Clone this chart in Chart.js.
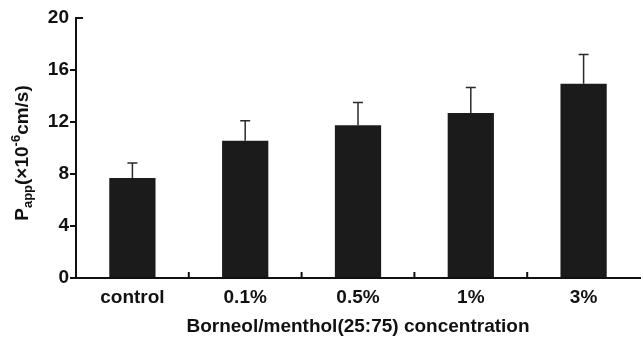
<!DOCTYPE html>
<html>
<head>
<meta charset="utf-8">
<script src="https://cdn.jsdelivr.net/npm/chart.js@4/dist/chart.umd.min.js"></script>
<style>
  html, body { margin: 0; padding: 0; background: #fff; }
  #wrap { width: 643px; height: 338px; }
</style>
</head>
<body>
<div id="wrap"><canvas id="papp"></canvas></div>
<script>
const categories = ['control', '0.1%', '0.5%', '1%', '3%'];
const pappMean = [7.7, 10.55, 11.75, 12.7, 14.95];
const pappSD = [1.15, 1.55, 1.75, 1.95, 2.25];
const yTicks = [0, 4, 8, 12, 16, 20];

const FONT = '"Liberation Sans", Arial, sans-serif';

// upward-only error bars with a short cap
const errorBars = {
  id: 'errorBars',
  afterDatasetsDraw(chart) {
    const ctx = chart.ctx;
    const y = chart.scales.y;
    const meta = chart.getDatasetMeta(0);
    ctx.save();
    ctx.strokeStyle = '#2a2a2a';
    ctx.lineWidth = 1.5;
    meta.data.forEach((bar, i) => {
      const top = y.getPixelForValue(pappMean[i] + pappSD[i]);
      const base = y.getPixelForValue(pappMean[i]);
      ctx.beginPath();
      ctx.moveTo(bar.x, base);
      ctx.lineTo(bar.x, top);
      ctx.moveTo(bar.x - 5, top);
      ctx.lineTo(bar.x + 5, top);
      ctx.stroke();
    });
    ctx.restore();
  }
};

// inward ticks between categories, and the y title with sub/superscript
const axisExtras = {
  id: 'axisExtras',
  afterDraw(chart) {
    const ctx = chart.ctx;
    const x = chart.scales.x;
    const y = chart.scales.y;
    const area = chart.chartArea;
    ctx.save();
    ctx.strokeStyle = '#111';
    ctx.lineWidth = 2;
    ctx.beginPath();
    for (let i = 0; i < categories.length - 1; i++) {
      const px = (x.getPixelForValue(i) + x.getPixelForValue(i + 1)) / 2;
      ctx.moveTo(px, area.bottom);
      ctx.lineTo(px, area.bottom - 6);
    }
    const top = y.getPixelForValue(20);
    ctx.moveTo(area.left, top);
    ctx.lineTo(area.left + 7, top);
    ctx.stroke();

    // rotated y title: P_app(×10^-6 cm/s)
    const parts = [
      { t: 'P', size: 19, dy: 0 },
      { t: 'app', size: 13, dy: 4 },
      { t: '(×10', size: 19, dy: 0 },
      { t: '-6', size: 13, dy: -8 },
      { t: 'cm/s)', size: 19, dy: 0 }
    ];
    let total = 0;
    parts.forEach(p => {
      ctx.font = 'bold ' + p.size + 'px ' + FONT;
      p.w = ctx.measureText(p.t).width;
      total += p.w;
    });
    ctx.translate(28, 153);
    ctx.rotate(-Math.PI / 2);
    ctx.fillStyle = '#111';
    ctx.textBaseline = 'alphabetic';
    let cx = -total / 2;
    parts.forEach(p => {
      ctx.font = 'bold ' + p.size + 'px ' + FONT;
      ctx.fillText(p.t, cx, p.dy);
      cx += p.w;
    });
    ctx.restore();
  }
};

document.addEventListener('DOMContentLoaded', function() {
  const ctx = document.getElementById('papp').getContext('2d');
  new Chart(ctx, {
    type: 'bar',
    data: {
      labels: categories,
      datasets: [{
        data: pappMean,
        backgroundColor: '#1b1b1b',
        borderWidth: 0,
        categoryPercentage: 1,
        barPercentage: 0.41
      }]
    },
    options: {
      responsive: true,
      maintainAspectRatio: false,
      animation: false,
      layout: { padding: { left: 0, top: 18, right: 3, bottom: 0 } },
      plugins: {
        legend: { display: false },
        tooltip: { enabled: false }
      },
      scales: {
        x: {
          offset: true,
          grid: { display: false },
          border: { display: true, color: '#111', width: 2 },
          ticks: {
            color: '#111',
            padding: 0,
            font: { family: FONT, size: 19, weight: 'bold' }
          },
          title: {
            display: true,
            text: 'Borneol/menthol(25:75) concentration',
            color: '#111',
            padding: { top: 4, bottom: 0 },
            font: { family: FONT, size: 19, weight: 'bold' }
          },
          afterFit(scale) { scale.height = 60; }
        },
        y: {
          min: 0,
          max: 20,
          afterBuildTicks(scale) {
            scale.ticks = yTicks.map(v => ({ value: v }));
          },
          grid: {
            drawOnChartArea: false,
            tickLength: 6,
            lineWidth: 2,
            color: ctx => (ctx.tick && ctx.tick.value === 20 ? 'rgba(0,0,0,0)' : '#111')
          },
          border: { display: true, color: '#111', width: 2 },
          ticks: {
            color: '#111',
            padding: 1,
            font: { family: FONT, size: 19, weight: 'bold' }
          },
          afterFit(scale) { scale.width = 76; }
        }
      }
    },
    plugins: [errorBars, axisExtras]
  });
});
</script>
</body>
</html>
